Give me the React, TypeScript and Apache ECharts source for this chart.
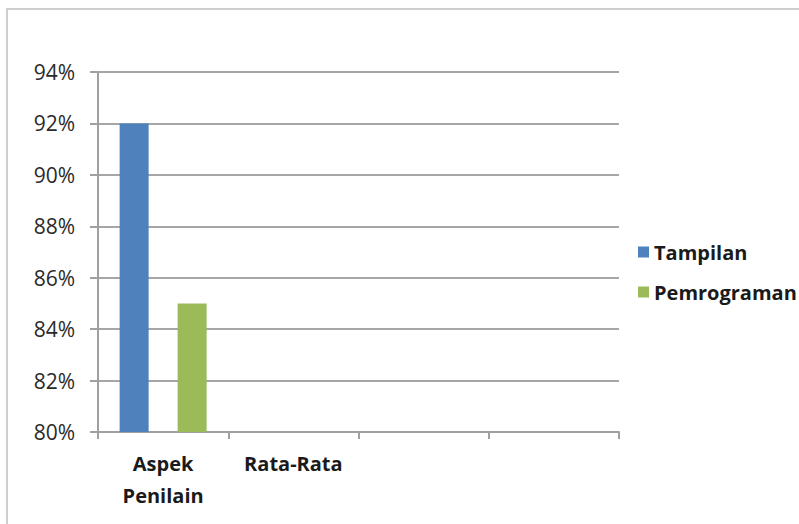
import React, { useEffect, useRef } from "react";
import * as echarts from "echarts";

const categories = ["Aspek\nPenilain", "Rata-Rata", "", ""];
const tampilan = [92, null, null, null];
const pemrograman = [85, null, null, null];
const seriesNames = ["Tampilan", "Pemrograman"];

export default function App() {
  const ref = useRef<HTMLDivElement>(null);
  useEffect(() => {
    if (!ref.current) return;
    const chart = echarts.init(ref.current, undefined, { renderer: "svg" });
    const font = "'Open Sans', Lato, sans-serif";
    chart.setOption({
      animation: false,
      backgroundColor: "#ffffff",
      graphic: [
        {
          type: "rect",
          shape: { x: 7, y: 9, width: 900, height: 600 },
          style: { fill: "none", stroke: "#cfcfcf", lineWidth: 2 },
          silent: true,
        },
      ],
      grid: { left: 98, right: 180, top: 72, bottom: 92 },
      legend: {
        orient: "vertical",
        left: 633,
        top: 237,
        itemWidth: 11,
        itemHeight: 11,
        itemGap: 20,
        icon: "rect",
        data: seriesNames,
        textStyle: {
          fontFamily: font,
          fontWeight: "bold",
          fontSize: 20,
          lineHeight: 20,
          color: "#1a1a1a",
        },
      },
      xAxis: {
        type: "category",
        data: categories,
        axisLine: { show: true, lineStyle: { color: "#a0a0a0", width: 2 } },
        axisTick: { show: true, length: 7, lineStyle: { color: "#a0a0a0", width: 2 } },
        axisLabel: {
          interval: 0,
          margin: 15,
          fontFamily: font,
          fontWeight: "bold",
          fontSize: 20,
          lineHeight: 32,
          color: "#1a1a1a",
        },
      },
      yAxis: {
        type: "value",
        min: 80,
        max: 94,
        interval: 2,
        axisLine: { show: true, lineStyle: { color: "#a0a0a0", width: 2 } },
        axisTick: { show: true, length: 8, lineStyle: { color: "#a0a0a0", width: 2 } },
        splitLine: { show: true, lineStyle: { color: "#a6a6a6", width: 2 } },
        axisLabel: {
          formatter: "{value}%",
          margin: 23,
          fontFamily: font,
          fontSize: 21,
          color: "#2a2a2a",
        },
      },
      series: [
        {
          name: seriesNames[0],
          type: "bar",
          data: tampilan,
          barWidth: 29,
          barGap: "100%",
          itemStyle: { color: "#4f81bd" },
        },
        {
          name: seriesNames[1],
          type: "bar",
          data: pemrograman,
          barWidth: 29,
          barGap: "100%",
          itemStyle: { color: "#9bbb59" },
        },
      ],
    });
    return () => chart.dispose();
  }, []);
  return (
    <div
      ref={ref}
      style={{ position: "fixed", left: 0, top: 0, width: 799, height: 524 }}
    />
  );
}
